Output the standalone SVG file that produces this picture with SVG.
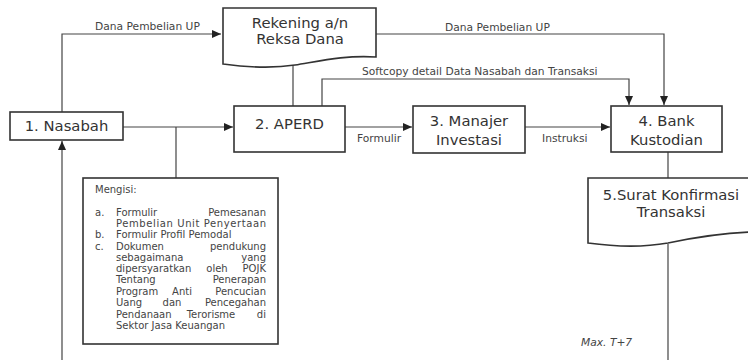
<svg xmlns="http://www.w3.org/2000/svg" width="748" height="360" viewBox="0 0 748 360">
<style>
.box{fill:#fff;stroke:#333;stroke-width:1.6}
.ln{fill:none;stroke:#444;stroke-width:1.2}
.t{font-family:"DejaVu Sans",Verdana,sans-serif;font-size:14.8px;fill:#333;text-anchor:middle}
.lb{font-family:"DejaVu Sans",Verdana,sans-serif;font-size:10.7px;fill:#444}
.s{font-family:"DejaVu Sans",Verdana,sans-serif;font-size:10px;fill:#444}
.e{text-anchor:end}
.m{text-anchor:middle}
</style>
<defs>
<marker id="ar" markerUnits="userSpaceOnUse" markerWidth="10" markerHeight="8" refX="9" refY="4" orient="auto">
<path d="M0,0 L9,4 L0,8 Z" fill="#222"/>
</marker>
</defs>
<rect width="748" height="360" fill="#fff"/>
<g id="connectors">
<polyline class="ln" points="62,112 62,34 221,34" marker-end="url(#ar)"/>
<polyline class="ln" points="376,34 664,34 664,105" marker-end="url(#ar)"/>
<line class="ln" x1="293" y1="65" x2="293" y2="106"/>
<polyline class="ln" points="322,106 322,79 629,79 629,105" marker-end="url(#ar)"/>
<line class="ln" x1="123" y1="127" x2="233" y2="127" marker-end="url(#ar)"/>
<line class="ln" x1="176" y1="127" x2="176" y2="178"/>
<line class="ln" x1="345" y1="127" x2="412" y2="127" marker-end="url(#ar)"/>
<line class="ln" x1="525" y1="127" x2="610" y2="127" marker-end="url(#ar)"/>
<line class="ln" x1="668" y1="152" x2="668" y2="178"/>
<line class="ln" x1="668" y1="244" x2="668" y2="360"/>
<line class="ln" x1="62" y1="360" x2="62" y2="141" marker-end="url(#ar)"/>
<text class="lb" x="95" y="30">Dana Pembelian UP</text>
<text class="lb" x="445" y="31">Dana Pembelian UP</text>
<text class="lb" x="362" y="75">Softcopy detail Data Nasabah dan Transaksi</text>
<text class="lb" x="357" y="142">Formulir</text>
<text class="lb" x="542" y="142">Instruksi</text>
<text class="lb" x="581" y="346" font-style="italic" font-size="10px">Max. T+7</text>
</g>
<g id="nasabah">
<rect class="box" x="10" y="112" width="113" height="28"/>
<text class="t" x="66.5" y="131">1. Nasabah</text>
</g>
<g id="rekening">
<path class="box" d="M223,8 H376 V57 C345,55 320,61 295,65 C270,69 245,67 223,64 Z"/>
<text class="t" x="300" y="28">Rekening a/n</text>
<text class="t" x="300" y="44">Reksa Dana</text>
</g>
<g id="aperd">
<rect class="box" x="234" y="106" width="111" height="46"/>
<text class="t" x="289.5" y="129">2. APERD</text>
</g>
<g id="manajer">
<rect class="box" x="413" y="106" width="112" height="47"/>
<text class="t" x="469" y="126">3. Manajer</text>
<text class="t" x="469" y="145">Investasi</text>
</g>
<g id="bank">
<rect class="box" x="611" y="106" width="111" height="46"/>
<text class="t" x="666.5" y="126">4. Bank</text>
<text class="t" x="666.5" y="145">Kustodian</text>
</g>
<g id="surat">
<path class="box" d="M588,178 H752 V232 C720,233 692,238 668,243 C640,248 610,246 588,243 Z"/>
<text class="t" x="671" y="200">5.Surat Konfirmasi</text>
<text class="t" x="671" y="217">Transaksi</text>
</g>
<g id="mengisi">
<rect class="box" x="83" y="178" width="195" height="166"/>
<text class="s" x="95" y="193">Mengisi:</text>
<text class="s" x="95" y="216">a.</text>
<text class="s" x="116" y="216">Formulir</text><text class="s e" x="266" y="216">Pemesanan</text>
<text class="s" x="116" y="227" textLength="150" lengthAdjust="spacing">Pembelian Unit Penyertaan</text>
<text class="s" x="95" y="238">b.</text>
<text class="s" x="116" y="238">Formulir Profil Pemodal</text>
<text class="s" x="95" y="250">c.</text>
<text class="s" x="116" y="250">Dokumen</text><text class="s e" x="266" y="250">pendukung</text>
<text class="s" x="116" y="261">sebagaimana</text><text class="s e" x="266" y="261">yang</text>
<text class="s" x="116" y="272">dipersyaratkan</text><text class="s m" x="217" y="272">oleh</text><text class="s e" x="266" y="272">POJK</text>
<text class="s" x="116" y="283">Tentang</text><text class="s e" x="266" y="283">Penerapan</text>
<text class="s" x="116" y="295">Program</text><text class="s m" x="182" y="295">Anti</text><text class="s e" x="266" y="295">Pencucian</text>
<text class="s" x="116" y="306">Uang</text><text class="s m" x="172" y="306">dan</text><text class="s e" x="266" y="306">Pencegahan</text>
<text class="s" x="116" y="318">Pendanaan</text><text class="s m" x="211" y="318">Terorisme</text><text class="s e" x="266" y="318">di</text>
<text class="s" x="116" y="329">Sektor Jasa Keuangan</text>
</g>
</svg>
